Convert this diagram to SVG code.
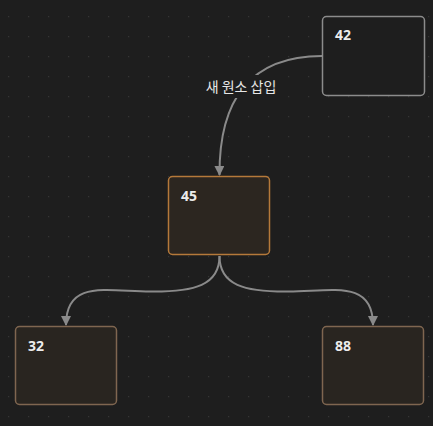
<svg xmlns="http://www.w3.org/2000/svg" width="433" height="426" viewBox="0 0 433 426">
<style>
.node rect{stroke-width:1.5}
.lbl{font-family:"Noto Sans","Liberation Sans","Noto Sans CJK KR",sans-serif;font-size:14px;font-weight:bold;fill:#ececec}
.edge{fill:none;stroke:#8a8a8a;stroke-width:2}
.elbl{font-family:"Noto Sans CJK KR","Noto Sans",sans-serif;font-size:14px;fill:#e6e6e6}
</style>
<defs>
<pattern id="dots" x="0" y="0" width="20" height="20" patternUnits="userSpaceOnUse">
<rect x="8" y="16" width="1.2" height="1.2" fill="#353535"/>
</pattern>
<marker id="arr" viewBox="0 0 10 10" refX="9" refY="5" markerWidth="5" markerHeight="5" orient="auto" markerUnits="strokeWidth">
<path d="M0,0 L10,5 L0,10 z" fill="#8a8a8a"/>
</marker>
</defs>
<rect width="433" height="426" fill="#1e1e1e"/>
<rect width="433" height="426" fill="url(#dots)"/>
<g id="connectors">
<path class="edge" d="M322,56 C250,56 219,100 219.5,175" marker-end="url(#arr)"/>
<rect x="199" y="75" width="84" height="23" fill="#1e1e1e"/>
<text class="elbl" x="241" y="92" text-anchor="middle">새 원소 삽입</text>
<path class="edge" d="M219.5,256 C219.5,285 195,292 150,291.5 C105,291 66,280 66,325" marker-end="url(#arr)"/>
<path class="edge" d="M219.5,256 C219.5,285 244,292 289,291.5 C334,291 373,280 373,325" marker-end="url(#arr)"/>
</g>
<g id="n42" class="node">
<rect x="322.5" y="16.5" width="102" height="79" rx="4" fill="#1e1e1e" stroke="#8c8c8c"/>
<text class="lbl" x="335" y="40">42</text>
</g>
<g id="n45" class="node">
<rect x="168.5" y="176.5" width="101" height="78" rx="4" fill="#2c2620" stroke="#b5793a"/>
<text class="lbl" x="181" y="200.5">45</text>
</g>
<g id="n32" class="node">
<rect x="15.5" y="326.5" width="101" height="78" rx="4" fill="#292520" stroke="#7f6650"/>
<text class="lbl" x="28" y="350.5">32</text>
</g>
<g id="n88" class="node">
<rect x="322.5" y="326.5" width="101" height="78" rx="4" fill="#292520" stroke="#7f6650"/>
<text class="lbl" x="335" y="350.5">88</text>
</g>
</svg>
